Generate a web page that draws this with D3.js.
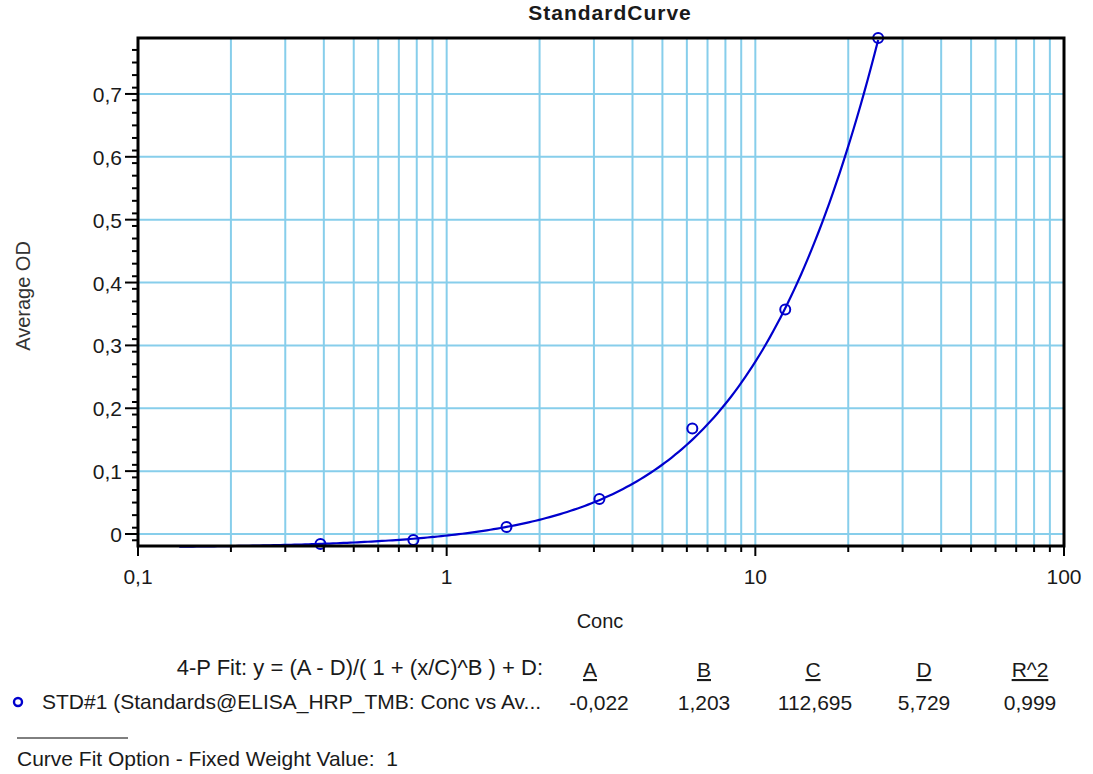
<!DOCTYPE html>
<html><head><meta charset="utf-8">
<script src="https://cdn.jsdelivr.net/npm/d3@7"></script>
<style>
body{margin:0;background:#fff;}
text{font-family:"Liberation Sans",Arial,sans-serif;fill:#1a1a1a;}
</style></head>
<body>
<svg id="chart" width="1093" height="774"></svg>
<script>
// ---- data ----
const concValues = [0.39, 0.78, 1.5625, 3.125, 6.25, 12.5, 25];
const odValues   = [-0.016, -0.0095, 0.011, 0.0555, 0.168, 0.357, 0.789];
const yTickValues = [0, 0.1, 0.2, 0.3, 0.4, 0.5, 0.6, 0.7];
const xTickLabels = ["0,1", "1", "10", "100"];
const xMajorValues = [0.1, 1, 10, 100];
const fitParamNames = ["A", "B", "C", "D", "R^2"];
const fitParamLabels = ["-0,022", "1,203", "112,695", "5,729", "0,999"];
const fitParams = [-0.022, 1.203, 112.695, 5.729]; // A, B, C, D
const curveRange = [0.136, 25];

const svg = d3.select("#chart");
const L = 138, R = 1064, T = 38, B = 546;
const x = d3.scaleLog().domain([0.1, 100]).range([L, R]);
const y = d3.scaleLinear().domain([-0.0191, 0.789]).range([B, T]);
const grid = "#87CEEB";
const blue = "#0000CD";
const fmt = d => d3.format(".1f")(d).replace(".", ",");

// minor x positions
const xMinor = [];
[0.1, 1, 10].forEach(dec => { for (let k = 2; k <= 9; k++) xMinor.push(dec * k); });
const xGridAll = xMinor.concat([1, 10]);

// grid
const g = svg.append("g");
g.selectAll("line.vg").data(xGridAll).join("line")
  .attr("x1", d => x(d)).attr("x2", d => x(d)).attr("y1", T).attr("y2", B)
  .attr("stroke", grid).attr("stroke-width", 2);
g.selectAll("line.hg").data(yTickValues).join("line")
  .attr("x1", L).attr("x2", R).attr("y1", d => y(d)).attr("y2", d => y(d))
  .attr("stroke", grid).attr("stroke-width", 2);

// fit curve (from the displayed 4-P fit parameters)
const [A, Bp, C, D] = fitParams;
const f = v => (A - D) / (1 + Math.pow(v / C, Bp)) + D;
const lx = d3.scaleLog().domain(curveRange);
const curvePts = d3.range(0, 201).map(i => { const v = lx.invert(i / 200); return [v, f(v)]; });
svg.append("path").datum(curvePts)
  .attr("d", d3.line().x(d => x(d[0])).y(d => y(d[1])))
  .attr("fill", "none").attr("stroke", blue).attr("stroke-width", 2.2);

// points
svg.selectAll("circle.pt").data(concValues).join("circle")
  .attr("cx", d => x(d)).attr("cy", (d, i) => y(odValues[i])).attr("r", 5)
  .attr("fill", "none").attr("stroke", blue).attr("stroke-width", 2);

// frame
svg.append("rect").attr("x", L).attr("y", T).attr("width", R - L).attr("height", B - T)
  .attr("fill", "none").attr("stroke", "#000").attr("stroke-width", 3);

// y ticks
const yMinor = d3.range(-0.01, 0.789, 0.02).map(v => +v.toFixed(2)).filter(v => y(v) < B - 2);
svg.selectAll("line.ymin").data(yMinor).join("line")
  .attr("x1", L - 6).attr("x2", L).attr("y1", d => y(d)).attr("y2", d => y(d))
  .attr("stroke", "#000").attr("stroke-width", 2);
svg.selectAll("line.ymaj").data(yTickValues).join("line")
  .attr("x1", L - 13).attr("x2", L).attr("y1", d => y(d)).attr("y2", d => y(d))
  .attr("stroke", "#000").attr("stroke-width", 2);
svg.selectAll("text.yl").data(yTickValues).join("text")
  .attr("x", L - 16).attr("y", d => y(d) + 8).attr("text-anchor", "end")
  .attr("font-size", 21).text(d => d === 0 ? "0" : fmt(d));

// x ticks
svg.selectAll("line.xmin").data(xMinor).join("line")
  .attr("x1", d => x(d)).attr("x2", d => x(d)).attr("y1", B).attr("y2", B + 6)
  .attr("stroke", "#000").attr("stroke-width", 2);
svg.selectAll("line.xmaj").data(xMajorValues).join("line")
  .attr("x1", d => x(d)).attr("x2", d => x(d)).attr("y1", B).attr("y2", B + 10)
  .attr("stroke", "#000").attr("stroke-width", 2);
svg.selectAll("text.xl").data(xMajorValues).join("text")
  .attr("x", d => x(d)).attr("y", 584).attr("text-anchor", "middle")
  .attr("font-size", 21).text((d, i) => xTickLabels[i]);

// titles
svg.append("text").attr("x", 610).attr("y", 20).attr("text-anchor", "middle")
  .attr("font-size", 21).attr("font-weight", "bold").attr("letter-spacing", 1)
  .text("StandardCurve");
svg.append("text").attr("x", 600).attr("y", 628).attr("text-anchor", "middle")
  .attr("font-size", 20).text("Conc");
svg.append("text").attr("transform", "translate(30,296) rotate(-90)").attr("text-anchor", "middle")
  .attr("font-size", 20).style("fill", "#333").text("Average OD");

// legend
svg.append("text").attr("x", 543).attr("y", 675).attr("text-anchor", "end")
  .attr("font-size", 22).text("4-P Fit: y = (A - D)/( 1 + (x/C)^B ) + D:");
const colX = [590, 704, 813, 924, 1030];
svg.selectAll("text.ph").data(fitParamNames).join("text")
  .attr("x", (d, i) => colX[i]).attr("y", 677).attr("text-anchor", "middle")
  .attr("font-size", 21).attr("text-decoration", "underline").text(d => d);
svg.selectAll("text.pv").data(fitParamLabels).join("text")
  .attr("x", (d, i) => colX[i] + (i === 0 ? 9 : i === 2 ? 2 : 0)).attr("y", 710).attr("text-anchor", "middle")
  .attr("font-size", 21).text(d => d);
svg.append("circle").attr("cx", 18).attr("cy", 702).attr("r", 4)
  .attr("fill", "none").attr("stroke", blue).attr("stroke-width", 2.4);
svg.append("text").attr("x", 42).attr("y", 709).attr("font-size", 21)
  .text("STD#1 (Standards@ELISA_HRP_TMB: Conc vs Av...");
svg.append("line").attr("x1", 17).attr("x2", 128).attr("y1", 738).attr("y2", 738)
  .attr("stroke", "#000").attr("stroke-width", 1);
svg.append("text").attr("x", 17).attr("y", 766).attr("font-size", 21)
  .text("Curve Fit Option - Fixed Weight Value:\u00A0\u00A01");
</script>
</body></html>
